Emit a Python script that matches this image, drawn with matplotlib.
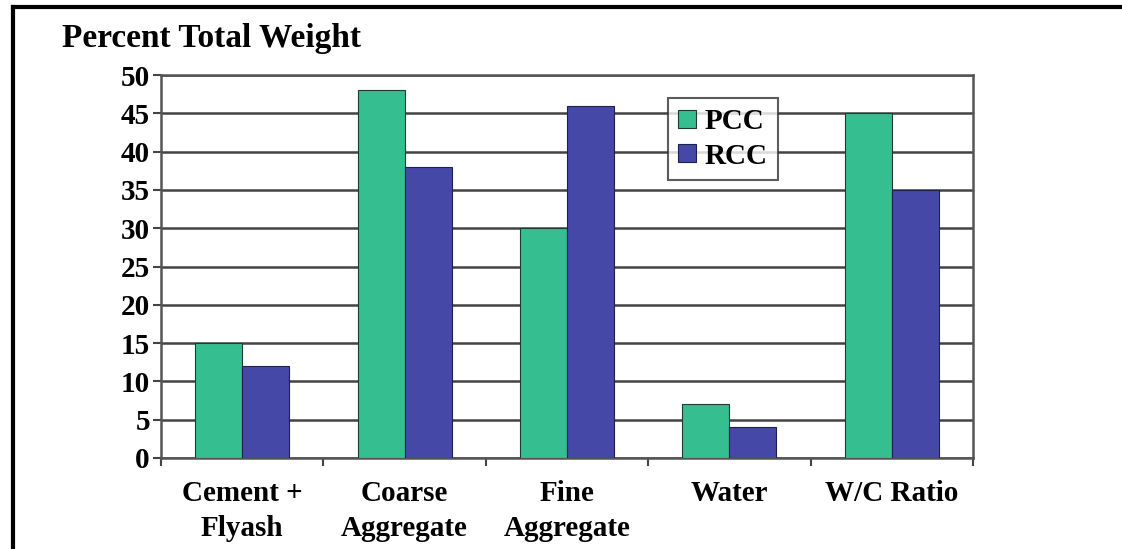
import matplotlib.pyplot as plt
import matplotlib.lines as mlines
import numpy as np

categorias = ["Cement +\nFlyash", "Coarse\nAggregate", "Fine\nAggregate", "Water", "W/C Ratio"]
pcc = [15, 48, 30, 7, 45]
rcc = [12, 38, 46, 4, 35]
yticks = [0, 5, 10, 15, 20, 25, 30, 35, 40, 45, 50]

verde = '#35BE90'
azul = '#4548A6'

plt.rcParams['font.family'] = ['Liberation Serif', 'DejaVu Serif']

fig = plt.figure(figsize=(11.22, 5.49), dpi=100)
ax = fig.add_axes([161/1122, 1 - 458/549, (973 - 161)/1122, (458 - 75)/549])

x = np.arange(len(categorias))
ancho = 0.29
ax.bar(x - ancho/2, pcc, ancho, color=verde, edgecolor='#1f3a30', linewidth=0.8, label='PCC', zorder=3)
ax.bar(x + ancho/2, rcc, ancho, color=azul, edgecolor='#1f1f50', linewidth=0.8, label='RCC', zorder=3)

ax.set_xlim(-0.5, len(categorias) - 0.5)
ax.set_ylim(0, 50)
ax.set_yticks(yticks)
ax.set_yticklabels([str(v) for v in yticks], fontsize=21, fontweight='bold')
ax.yaxis.grid(True, color='#444444', linewidth=1.8, zorder=0)
ax.set_axisbelow(True)

# ticks del eje x entre categorias, etiquetas centradas
ax.set_xticks(np.arange(len(categorias) + 1) - 0.5)
ax.set_xticklabels([])
ax.set_xticks(x, minor=True)
ax.set_xticklabels(categorias, minor=True, fontsize=21, fontweight='bold', linespacing=1.38)
ax.tick_params(axis='x', which='minor', length=0, pad=16)
ax.tick_params(axis='x', which='major', length=6, width=1.5, color='#444444', direction='out')
ax.tick_params(axis='y', length=6, width=1.5, color='#444444', pad=2)

for lado in ['left', 'bottom', 'right', 'top']:
    ax.spines[lado].set_color('#555555')
    ax.spines[lado].set_linewidth(1.8)

leg = ax.legend(loc='upper left', bbox_to_anchor=((668 - 161)/812, 1 - (98 - 75)/383),
                prop={'weight': 'bold', 'size': 21}, frameon=True, fancybox=False,
                handlelength=0.6, handleheight=0.6, handletextpad=0.3,
                borderpad=0.35, labelspacing=0.25, borderaxespad=0)
leg.get_frame().set_edgecolor('#333333')
leg.get_frame().set_linewidth(1.5)

fig.text(62/1122, 1 - 38/549, 'Percent Total Weight', fontsize=24, fontweight='bold',
         ha='left', va='center')

# marco exterior: linea superior e izquierda
fig.add_artist(mlines.Line2D([12.5/1122, 1], [1 - 7/549, 1 - 7/549], color='black', linewidth=3,
                             transform=fig.transFigure))
fig.add_artist(mlines.Line2D([12.5/1122, 12.5/1122], [0, 1 - 7/549], color='black', linewidth=3,
                             transform=fig.transFigure))

fig.savefig('out.png', dpi=100)
